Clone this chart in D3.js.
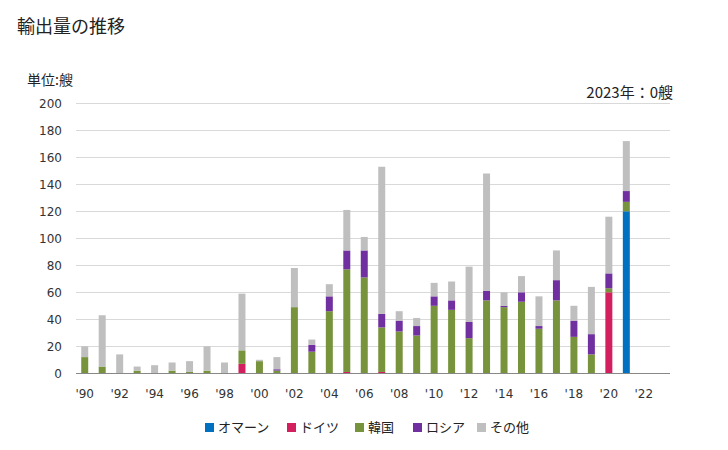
<!DOCTYPE html>
<html><head><meta charset="utf-8">
<script src="https://cdn.jsdelivr.net/npm/d3@7"></script>
<style>body{margin:0;background:#fff}</style>
</head><body>
<svg id="c" width="728" height="450"></svg>
<script>
const years = d3.range(1990, 2024);
const seriesNames = ["オマーン", "ドイツ", "韓国", "ロシア", "その他"];
const colors = ["#0070c0", "#d41f5f", "#77933c", "#7030a0", "#bfbfbf"];
// values per year 1990..2023
const oman    = [0,0,0,0,0,0,0,0,0,0, 0,0,0,0,0,0,0,0,0,0, 0,0,0,0,0,0,0,0,0,0, 0,120,0,0];
const germany = [0,0,0,0,0,0,0,0,0,7, 0,0,0,0,0,1,0,1,0,0, 0,0,0,0,0,0,0,0,0,0, 60,0,0,0];
const korea   = [12,5,0,2,0,2,1,2,0,10, 9,2,49,16,46,76,71,33,31,28, 50,47,26,54,49,53,33,54,27,14, 3,7,0,0];
const russia  = [0,0,0,0,0,0,0,0,0,0, 0,1,0,5,11,14,20,10,8,7, 7,7,12,7,1,7,2,15,12,15, 11,8,0,0];
const other   = [8,38,14,3,6,6,8,18,8,42, 1,9,29,4,9,30,10,109,7,6, 10,14,41,87,10,12,22,22,11,35, 42,37,0,0];
const yTicks = [0,20,40,60,80,100,120,140,160,180,200];
const xTickYears = d3.range(1990, 2023, 2);

const svg = d3.select("#c");
const margin = {left: 76, right: 58, top: 103, bottom: 77};
const x = d3.scaleBand().domain(years).range([76, 670]).paddingInner(0.6).paddingOuter(0.3);
const y = d3.scaleLinear().domain([0, 200]).range([373.3, 103.3]);

const table = years.map((yr, i) => ({year: yr, s0: oman[i], s1: germany[i], s2: korea[i], s3: russia[i], s4: other[i]}));
const stack = d3.stack().keys(["s0","s1","s2","s3","s4"])(table);

// gridlines
svg.append("g").selectAll("line").data(yTicks.filter(d => d > 0)).join("line")
  .attr("x1", 76).attr("x2", 670)
  .attr("y1", d => Math.round(y(d)) + 0.5).attr("y2", d => Math.round(y(d)) + 0.5)
  .attr("stroke", "#d9d9d9").attr("stroke-width", 1);

// y labels
svg.append("g").selectAll("text").data(yTicks).join("text")
  .attr("x", 62).attr("y", d => y(d)).attr("dy", "0.35em")
  .attr("text-anchor", "end")
  .attr("font-family", "DejaVu Sans").attr("font-size", 12).attr("fill", "#333")
  .text(d => d);

// bars
svg.append("g").selectAll("g").data(stack).join("g")
  .attr("fill", (d, i) => colors[i])
  .selectAll("rect").data(d => d).join("rect")
  .attr("x", d => x(d.data.year))
  .attr("width", x.bandwidth())
  .attr("y", d => y(d[1]))
  .attr("height", d => Math.max(0, y(d[0]) - y(d[1])));

// baseline
svg.append("line").attr("x1", 76).attr("x2", 670)
  .attr("y1", 373.5).attr("y2", 373.5).attr("stroke", "#888").attr("stroke-width", 1);

// x labels
svg.append("g").selectAll("text").data(xTickYears).join("text")
  .attr("x", d => x(d) + x.bandwidth() / 2).attr("y", 398)
  .attr("text-anchor", "middle")
  .attr("font-family", "DejaVu Sans").attr("font-size", 12).attr("fill", "#333")
  .text(d => "'" + String(d).slice(2));

// title and notes
svg.append("text").attr("x", 17).attr("y", 33)
  .attr("font-family", "Noto Sans CJK JP").attr("font-size", 18).attr("fill", "#222")
  .text("輸出量の推移");
svg.append("text").attr("x", 27).attr("y", 85)
  .attr("font-family", "Noto Sans CJK JP").attr("font-size", 14).attr("fill", "#222")
  .text("単位:艘");
svg.append("text").attr("x", 673).attr("y", 98).attr("text-anchor", "end")
  .attr("font-family", "Noto Sans CJK JP").attr("font-size", 15).attr("fill", "#222")
  .text("2023年：0艘");

// legend
const legendX = [205, 287, 355, 413, 477];
const lg = svg.append("g").selectAll("g").data(seriesNames).join("g")
  .attr("transform", (d, i) => `translate(${legendX[i]},0)`);
lg.append("rect").attr("x", 0).attr("y", 423).attr("width", 9).attr("height", 9)
  .attr("fill", (d, i) => colors[i]);
lg.append("text").attr("x", 13).attr("y", 427.5).attr("dy", "0.35em")
  .attr("font-family", "Noto Sans CJK JP").attr("font-size", 13).attr("fill", "#222")
  .text(d => d);
</script>
</body></html>
